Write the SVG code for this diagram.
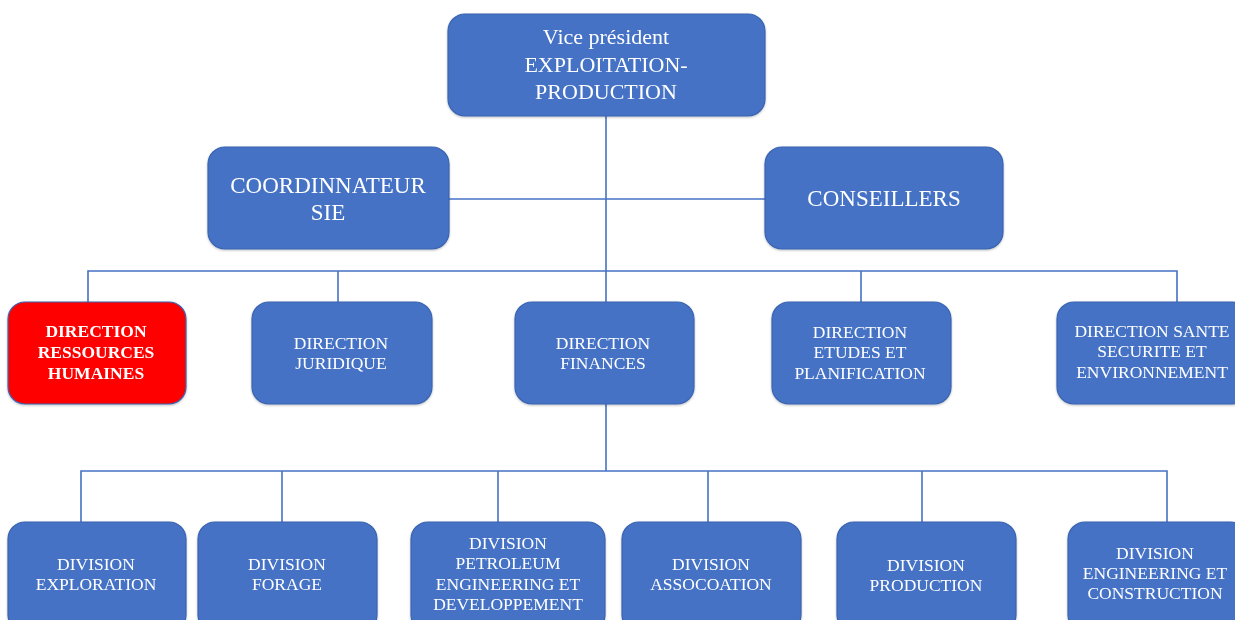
<svg xmlns="http://www.w3.org/2000/svg" width="1235" height="620" viewBox="0 0 1235 620">
  <style>
    .box { fill: #4472C4; stroke: #3B64B0; stroke-width: 1.2; }
    .red { fill: #FF0000; stroke: #3B64B0; stroke-width: 1.2; }
    .link { stroke: #4472C4; stroke-width: 1.6; fill: none; }
    text { font-family: "Liberation Serif", "Times New Roman", serif; fill: #FFFFFF; text-anchor: middle; }
    .t1 { font-size: 22px; }
    .t2 { font-size: 23px; }
    .t3 { font-size: 17.5px; }
    .bold { font-weight: bold; }
  </style>
  <defs>
    <filter id="soft" x="-5%" y="-5%" width="110%" height="115%">
      <feDropShadow dx="0" dy="1" stdDeviation="1" flood-color="#000000" flood-opacity="0.25"/>
    </filter>
  </defs>
  <rect width="1235" height="620" fill="#FFFFFF"/>

  <g id="connectors">
    <path class="link" d="M606 116 V471"/>
    <path class="link" d="M449 199 H765"/>
    <path class="link" d="M88 302 V271 H1177 V302"/>
    <path class="link" d="M338 271 V302"/>
    <path class="link" d="M861 271 V302"/>
    <path class="link" d="M81 522 V471 H1167 V522"/>
    <path class="link" d="M282 471 V522"/>
    <path class="link" d="M498 471 V522"/>
    <path class="link" d="M708 471 V522"/>
    <path class="link" d="M922 471 V522"/>
  </g>

  <g id="vice-president" filter="url(#soft)">
    <rect class="box" x="448" y="14" width="317" height="102" rx="17"/>
    <text class="t1" x="606" y="44">Vice président</text>
    <text class="t1" x="606" y="72">EXPLOITATION-</text>
    <text class="t1" x="606" y="99">PRODUCTION</text>
  </g>

  <g id="coordinnateur" filter="url(#soft)">
    <rect class="box" x="208" y="147" width="241" height="102" rx="17"/>
    <text class="t2" x="328" y="193">COORDINNATEUR</text>
    <text class="t2" x="328" y="220">SIE</text>
  </g>

  <g id="conseillers" filter="url(#soft)">
    <rect class="box" x="765" y="147" width="238" height="102" rx="17"/>
    <text class="t2" x="884" y="206">CONSEILLERS</text>
  </g>

  <g id="dir-rh" filter="url(#soft)">
    <rect class="red" x="8" y="302" width="178" height="102" rx="17"/>
    <text class="t3 bold" x="96" y="337">DIRECTION</text>
    <text class="t3 bold" x="96" y="358">RESSOURCES</text>
    <text class="t3 bold" x="96" y="379">HUMAINES</text>
  </g>

  <g id="dir-juridique" filter="url(#soft)">
    <rect class="box" x="252" y="302" width="180" height="102" rx="17"/>
    <text class="t3" x="341" y="349">DIRECTION</text>
    <text class="t3" x="341" y="369">JURIDIQUE</text>
  </g>

  <g id="dir-finances" filter="url(#soft)">
    <rect class="box" x="515" y="302" width="179" height="102" rx="17"/>
    <text class="t3" x="603" y="349">DIRECTION</text>
    <text class="t3" x="603" y="369">FINANCES</text>
  </g>

  <g id="dir-etudes" filter="url(#soft)">
    <rect class="box" x="772" y="302" width="179" height="102" rx="17"/>
    <text class="t3" x="860" y="338">DIRECTION</text>
    <text class="t3" x="860" y="358">ETUDES ET</text>
    <text class="t3" x="860" y="379">PLANIFICATION</text>
  </g>

  <g id="dir-sse" filter="url(#soft)">
    <rect class="box" x="1057" y="302" width="192" height="102" rx="17"/>
    <text class="t3" x="1152" y="337">DIRECTION SANTE</text>
    <text class="t3" x="1152" y="357">SECURITE ET</text>
    <text class="t3" x="1152" y="378">ENVIRONNEMENT</text>
  </g>

  <g id="div-exploration" filter="url(#soft)">
    <rect class="box" x="8" y="522" width="178" height="110" rx="17"/>
    <text class="t3" x="96" y="570">DIVISION</text>
    <text class="t3" x="96" y="590">EXPLORATION</text>
  </g>

  <g id="div-forage" filter="url(#soft)">
    <rect class="box" x="198" y="522" width="179" height="110" rx="17"/>
    <text class="t3" x="287" y="570">DIVISION</text>
    <text class="t3" x="287" y="590">FORAGE</text>
  </g>

  <g id="div-petroleum" filter="url(#soft)">
    <rect class="box" x="411" y="522" width="194" height="110" rx="17"/>
    <text class="t3" x="508" y="549">DIVISION</text>
    <text class="t3" x="508" y="569">PETROLEUM</text>
    <text class="t3" x="508" y="590">ENGINEERING ET</text>
    <text class="t3" x="508" y="610">DEVELOPPEMENT</text>
  </g>

  <g id="div-association" filter="url(#soft)">
    <rect class="box" x="622" y="522" width="179" height="110" rx="17"/>
    <text class="t3" x="711" y="570">DIVISION</text>
    <text class="t3" x="711" y="590">ASSOCOATION</text>
  </g>

  <g id="div-production" filter="url(#soft)">
    <rect class="box" x="837" y="522" width="179" height="110" rx="17"/>
    <text class="t3" x="926" y="571">DIVISION</text>
    <text class="t3" x="926" y="591">PRODUCTION</text>
  </g>

  <g id="div-engineering" filter="url(#soft)">
    <rect class="box" x="1068" y="522" width="180" height="110" rx="17"/>
    <text class="t3" x="1155" y="559">DIVISION</text>
    <text class="t3" x="1155" y="579">ENGINEERING ET</text>
    <text class="t3" x="1155" y="599">CONSTRUCTION</text>
  </g>
</svg>
